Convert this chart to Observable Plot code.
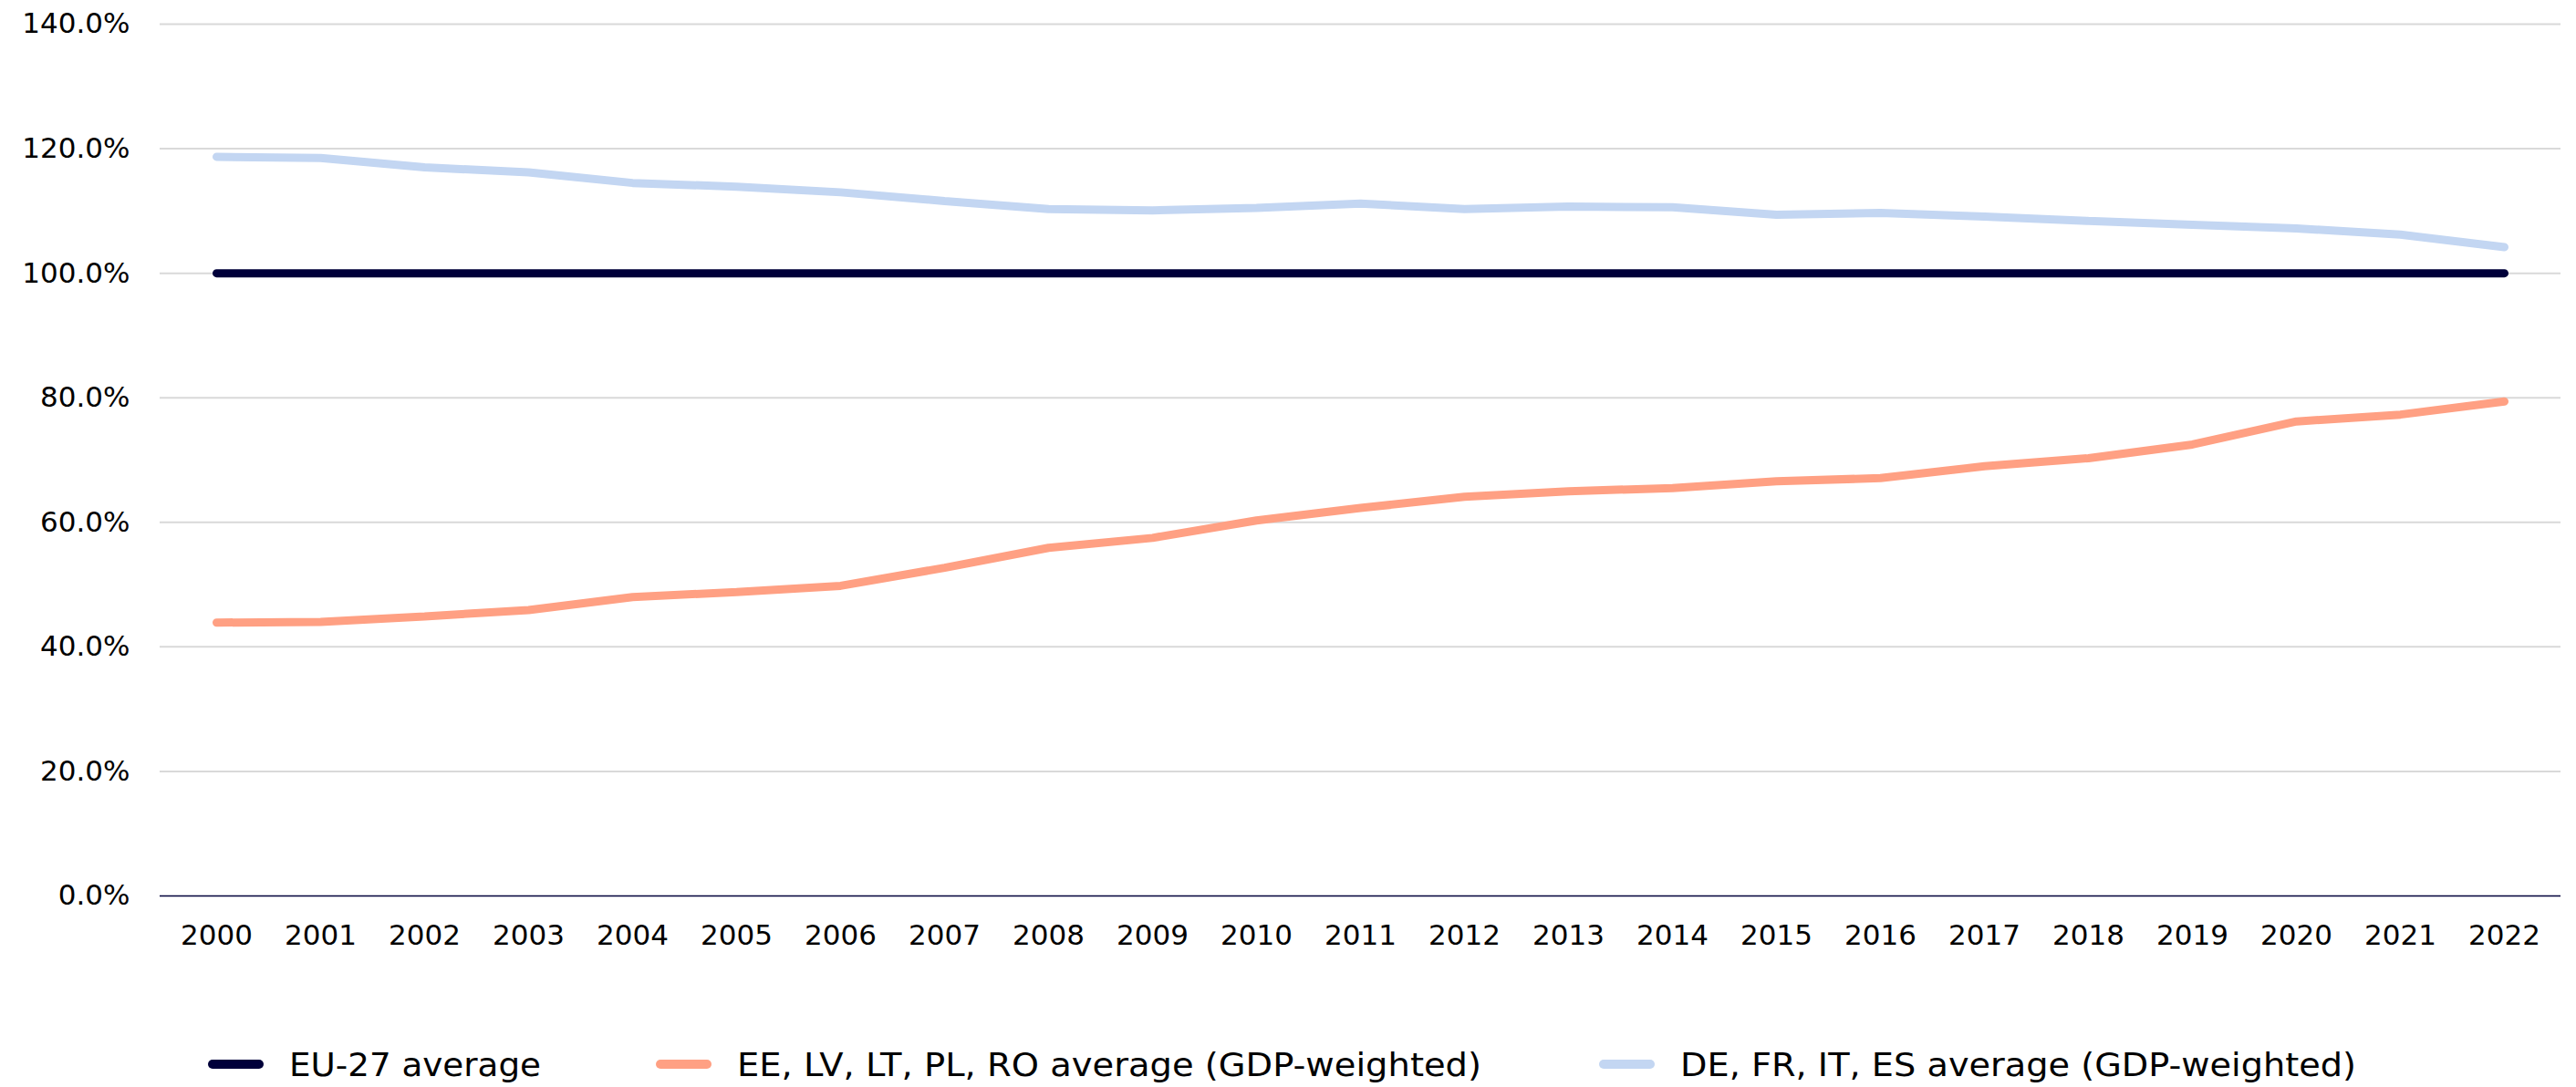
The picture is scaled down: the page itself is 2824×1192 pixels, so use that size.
<!DOCTYPE html>
<html>
<head>
<meta charset="utf-8">
<script src="https://cdn.jsdelivr.net/npm/d3@7"></script>
<script src="https://cdn.jsdelivr.net/npm/@observablehq/plot@0.6"></script>
<style>
  html, body { margin: 0; padding: 0; background: #ffffff; }
  body { width: 2824px; height: 1192px; overflow: hidden; font-family: "DejaVu Sans", Verdana, sans-serif; }
  #legend { position: relative; height: 102px; }
  .item { position: absolute; top: 56px; display: flex; align-items: center; height: 42px; }
  .sw { width: 61px; height: 10px; border-radius: 5px; margin-right: 28px; flex: none; }
  .lab { font-size: 36px; color: #000; white-space: nowrap; display: inline-block; transform-origin: 0 50%; }
</style>
</head>
<body>
<div id="chart"></div>
<div id="legend"></div>
<script>
const years = [2000,2001,2002,2003,2004,2005,2006,2007,2008,2009,2010,2011,2012,2013,2014,2015,2016,2017,2018,2019,2020,2021,2022];
const seriesNames = ["EU-27 average", "EE, LV, LT, PL, RO average (GDP-weighted)", "DE, FR, IT, ES average (GDP-weighted)"];
const seriesColors = ["#00003a", "#ffa083", "#c3d6f2"];
const eu27 = [100,100,100,100,100,100,100,100,100,100,100,100,100,100,100,100,100,100,100,100,100,100,100];
const cee = [43.9,44.0,44.9,45.9,48.0,48.8,49.8,52.7,55.9,57.5,60.3,62.3,64.1,65.0,65.5,66.6,67.1,69.0,70.3,72.5,76.2,77.3,79.4];
const big4 = [118.7,118.5,117.0,116.2,114.5,113.9,113.0,111.6,110.3,110.1,110.5,111.2,110.3,110.7,110.6,109.4,109.7,109.1,108.4,107.8,107.2,106.2,104.2];
const yTicks = [0,20,40,60,80,100,120,140];

const seriesValues = [eu27, cee, big4];
const data = seriesNames.flatMap((name, i) => years.map((yr, j) => ({series: name, year: String(yr), value: seriesValues[i][j]})));

const chart = Plot.plot({
  width: 2824,
  height: 1090,
  marginLeft: 175,
  marginRight: 17,
  marginTop: 26,
  marginBottom: 108,
  style: {fontFamily: "'DejaVu Sans', Verdana, sans-serif", fontSize: "31px", color: "#000", background: "#fff"},
  x: {type: "point", domain: years.map(String), padding: 0.5, label: null},
  y: {domain: [0, 140], label: null},
  color: {domain: seriesNames, range: seriesColors},
  marks: [
    Plot.gridY(yTicks.filter(d => d > 0), {stroke: "#d9d9d9", strokeOpacity: 1, strokeWidth: 2}),
    Plot.ruleY([0], {stroke: "#00003a", strokeWidth: 1.5}),
    Plot.axisY(yTicks, {tickSize: 0, tickPadding: 33, tickFormat: d => d.toFixed(1) + "%", label: null, fill: "#000"}),
    Plot.axisX({tickSize: 0, tickPadding: 31, label: null, fill: "#000"}),
    Plot.line(data, {x: "year", y: "value", z: "series", stroke: "series", strokeWidth: 9, strokeLinecap: "round", strokeLinejoin: "miter"})
  ]
});
document.getElementById("chart").appendChild(chart);

const legend = document.getElementById("legend");
const itemLeft = [228, 719, 1753];
const labelWidth = [276, 816, 741];
seriesNames.forEach((name, i) => {
  const it = document.createElement("div");
  it.className = "item";
  it.style.left = itemLeft[i] + "px";
  const sw = document.createElement("div");
  sw.className = "sw";
  sw.style.background = seriesColors[i];
  const lab = document.createElement("span");
  lab.className = "lab";
  lab.textContent = name;
  it.appendChild(sw);
  it.appendChild(lab);
  legend.appendChild(it);
  const w = lab.getBoundingClientRect().width;
  if (w > 0) lab.style.transform = "scaleX(" + (labelWidth[i] / w) + ")";
});
</script>
</body>
</html>
